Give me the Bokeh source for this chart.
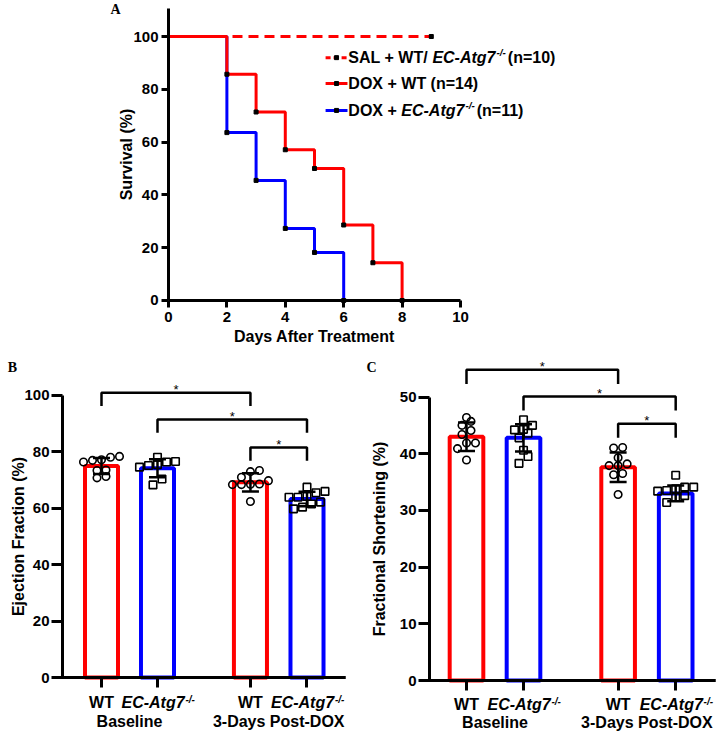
from bokeh.plotting import figure
from bokeh.layouts import column, row
from bokeh.models import Label, FixedTicker, Range1d, LinearAxis
from bokeh.embed import file_html
from bokeh.resources import INLINE

SANS = "Liberation Sans"
SERIF = "Liberation Serif"
RED = "#ff0000"
BLUE = "#0000ff"
NB = "\u00a0"

# ---------------- Panel A data (Kaplan-Meier survival) ----------------
sal_days = [0, 9]
sal_surv = [100, 100]
wt_days = [0, 2, 3, 4, 5, 6, 7, 8]
wt_surv = [100, 85.7, 71.4, 57.1, 50.0, 28.6, 14.3, 0]
ko_days = [0, 2, 3, 4, 5, 6]
ko_surv = [100, 63.6, 45.5, 27.3, 18.2, 0]
surv_x_ticks = [0, 2, 4, 6, 8, 10]
surv_y_ticks = [0, 20, 40, 60, 80, 100]

# ---------------- Panels B / C data ----------------
bar_groups = ["WT", "EC-Atg7", "WT", "EC-Atg7"]
bar_pos = [1.0, 2.0, 3.66, 4.67]
period_labels = ["Baseline", "3-Days Post-DOX"]

ef_wt_base = [77.2, 78.4, 77.0, 78.1, 73.4, 76.4, 73.6, 70.8, 71.3]
ef_ko_base = [78.1, 76.6, 75.2, 76.4, 75.5, 74.6, 70.4, 68.3]
ef_wt_dox = [73.4, 73.0, 71.0, 69.8, 68.4, 68.4, 68.6, 68.5, 62.4]
ef_ko_dox = [67.5, 63.9, 65.5, 66.0, 63.9, 64.2, 62.2, 59.8, 60.4, 61.5]
ef_mean = [75.0, 74.2, 69.2, 63.3]
ef_sd = [2.8, 3.2, 3.2, 2.6]
ef_ticks = [0, 20, 40, 60, 80, 100]
ef_brackets = [(0, 2, 101.0), (1, 3, 91.5), (2, 3, 81.6)]

fs_wt_base = [45.7, 46.4, 45.0, 44.1, 43.4, 41.9, 41.9, 40.9, 38.9]
fs_ko_base = [44.3, 43.6, 46.0, 45.0, 44.2, 42.8, 40.6, 39.5, 38.3]
fs_wt_dox = [41.1, 41.0, 39.3, 38.2, 37.9, 37.9, 36.5, 36.3, 32.8]
fs_ko_dox = [36.2, 33.5, 33.4, 34.1, 34.1, 33.8, 32.3, 32.6, 31.4]
fs_mean = [43.0, 42.8, 37.6, 33.0]
fs_sd = [2.5, 2.4, 2.6, 1.4]
fs_ticks = [0, 10, 20, 30, 40, 50]
fs_brackets = [(0, 2, 54.8), (1, 3, 50.1), (2, 3, 45.3)]

# Arial/Liberation Sans Bold advance widths (per 1000 em)
CW = {' ': 278, NB: 278, '+': 584, '/': 278, '-': 333, '(': 333, ')': 333, '=': 584,
      'A': 722, 'B': 722, 'C': 722, 'D': 722, 'E': 667, 'L': 611, 'O': 778,
      'P': 667, 'S': 667, 'T': 611, 'W': 944, 'X': 667, 'a': 556, 'e': 556,
      'g': 611, 'i': 278, 'l': 278, 'n': 611, 's': 556, 't': 333, 'y': 556,
      '%': 889}


def tw(s, size):
    return sum(CW.get(c, 556) for c in s) * size / 1000.0


def add_label(p, x, y, text, size, style="bold", align="left", baseline="middle",
              xo=0, yo=0, font=SANS):
    p.add_layout(Label(x=x, y=y, text=text, text_font=font,
                       text_font_size=f"{size}px", text_font_style=style,
                       text_align=align, text_baseline=baseline,
                       x_offset=xo, y_offset=yo, text_color="black"))


def rich_label(p, x, y, pieces, size, align="left", sup_gap=3.0):
    # pieces: (text, style, superscript?)
    sup_size = size * 0.62
    widths = [tw(t, sup_size if sup else size) + (sup_gap if sup else 0)
              for t, st, sup in pieces]
    total = sum(widths)
    off = 0 if align == "left" else -total / 2.0
    for (t, st, sup), w in zip(pieces, widths):
        add_label(p, x, y, t, round(sup_size if sup else size, 1), style=st,
                  xo=off + (1 if sup else 0), yo=(size * 0.32 if sup else 0))
        off += w


def style_axis(ax, tick_out, tick_size="15px"):
    ax.axis_line_width = 3
    ax.axis_line_color = "black"
    ax.major_tick_line_width = 3
    ax.major_tick_line_color = "black"
    ax.major_tick_in = 0
    ax.major_tick_out = tick_out
    ax.minor_tick_line_color = None
    ax.major_label_text_font = SANS
    ax.major_label_text_font_style = "bold"
    ax.major_label_text_font_size = tick_size
    ax.major_label_text_color = "black"
    ax.axis_label_text_font = SANS
    ax.axis_label_text_font_style = "bold"
    ax.axis_label_text_font_size = "16px"
    ax.axis_label_text_color = "black"


def clean(p):
    p.xgrid.visible = False
    p.ygrid.visible = False
    p.outline_line_color = None


# ======================= Panel A =======================
pa = figure(width=716, height=360, output_backend="svg", toolbar_location=None,
            x_range=Range1d(-5.753, 18.767), y_range=Range1d(-22.73, 113.64),
            min_border=0, x_axis_label="Days After Treatment",
            y_axis_label="Survival (%)")
clean(pa)
for ax in pa.axis:
    style_axis(ax, 7)
pa.xaxis.fixed_location = 0
pa.yaxis.fixed_location = 0
pa.xaxis.bounds = (0, 10)
pa.yaxis.bounds = (0, 110.6)
pa.xaxis.ticker = FixedTicker(ticks=surv_x_ticks)
pa.yaxis.ticker = FixedTicker(ticks=surv_y_ticks)
pa.xaxis.major_label_standoff = 5
pa.yaxis.major_label_standoff = 3
pa.xaxis.axis_label_standoff = 2
pa.yaxis.axis_label_standoff = -5

pa.line(sal_days, sal_surv, line_color=RED, line_width=3, line_dash="10 6")
pa.step(ko_days, ko_surv, mode="after", line_color=BLUE, line_width=3)
pa.step(wt_days, wt_surv, mode="after", line_color=RED, line_width=3)
pa.scatter(ko_days[1:], ko_surv[1:], marker="square", size=4, color="black")
pa.scatter(wt_days[1:], wt_surv[1:], marker="square", size=4, color="black")
pa.scatter(sal_days[-1:], sal_surv[-1:], marker="square", size=4, color="black")

# legend (drawn by hand for italic/superscript text)
leg_rows = [92.0, 82.2, 72.0]
leg_x0, leg_x1, leg_tx = 5.38, 6.13, 6.16
leg_colors = [RED, RED, BLUE]
leg_dash = ["5 3", "solid", "solid"]
for yy, col, dsh in zip(leg_rows, leg_colors, leg_dash):
    pa.line([leg_x0, leg_x1], [yy, yy], line_color=col, line_width=3, line_dash=dsh)
    pa.scatter([(leg_x0 + leg_x1) / 2], [yy], marker="square", size=4, color="black")
LFS = 16
rich_label(pa, leg_tx, leg_rows[0], [("SAL + WT/ ", "bold", False), ("EC-Atg7", "bold italic", False),
                                     ("-/-", "bold italic", True), (" (n=10)", "bold", False)], LFS)
rich_label(pa, leg_tx, leg_rows[1], [("DOX + WT (n=14)", "bold", False)], LFS)
rich_label(pa, leg_tx, leg_rows[2], [("DOX + ", "bold", False), ("EC-Atg7", "bold italic", False),
                                     ("-/-", "bold italic", True), (" (n=11)", "bold", False)], LFS)
add_label(pa, -1.815, 110.4, "A", 14, font=SERIF, align="center")


# ======================= Panels B, C =======================
def swarm(vals, ppx_y, d=7.0, step=9.0):
    """Row-based scatter spreading (GraphPad-like): points closer than d px in y
    share a row and are spread symmetrically about the bar centre."""
    offs = [0.0] * len(vals)
    order = sorted(range(len(vals)), key=lambda i: vals[i])
    rows, cur, start = [], [], None
    for i in order:
        y = vals[i] * ppx_y
        if cur and y - start >= d:
            rows.append(cur)
            cur = []
        if not cur:
            start = y
        cur.append(i)
    if cur:
        rows.append(cur)
    for r in rows:
        n = len(r)
        for j, i in enumerate(r):
            offs[i] = (j - (n - 1) / 2.0) * step
    return offs


def bar_panel(width, xr, yr, y_axis_x, x_bounds, y_top, yticks, means, sds, pts,
              brackets, leg, ylabel, letter_xy, letter, title_standoff,
              tick_standoff, period_px):
    height = 372
    p = figure(width=width, height=height, output_backend="svg", toolbar_location=None,
               x_range=Range1d(*xr), y_range=Range1d(*yr), min_border=0,
               y_axis_label=ylabel)
    clean(p)
    ppx_x = width / (xr[1] - xr[0])
    ppx_y = height / (yr[1] - yr[0])
    wt_ticks = [x for x, g in zip(bar_pos, bar_groups) if g == "WT"]
    ko_ticks = [x for x, g in zip(bar_pos, bar_groups) if g != "WT"]

    style_axis(p.yaxis[0], 11)
    p.yaxis.fixed_location = y_axis_x
    p.yaxis.ticker = FixedTicker(ticks=yticks)
    p.yaxis.bounds = (0, y_top)
    p.yaxis.major_label_standoff = 2
    p.yaxis.axis_label_standoff = title_standoff

    xa = p.xaxis[0]
    style_axis(xa, 10, "16px")
    xa.fixed_location = 0
    xa.bounds = x_bounds
    xa.ticker = FixedTicker(ticks=wt_ticks)
    xa.major_label_overrides = {t: "WT" for t in wt_ticks}
    xa.major_label_standoff = tick_standoff

    ko_text = "EC-Atg7" + NB + NB
    xb = LinearAxis(ticker=FixedTicker(ticks=ko_ticks), fixed_location=0,
                    bounds=x_bounds)
    style_axis(xb, 10, "16px")
    xb.major_label_text_font_style = "bold italic"
    xb.major_label_overrides = {t: ko_text for t in ko_ticks}
    xb.major_label_standoff = tick_standoff
    p.add_layout(xb, "below")

    colors = [RED, BLUE, RED, BLUE]
    p.vbar(x=bar_pos, top=means, width=0.59, bottom=0, fill_color="white",
           line_color=colors, line_width=4)
    for k, vals in enumerate(pts):
        offs = swarm(vals, ppx_y)
        xs = [bar_pos[k] + o / ppx_x for o in offs]
        mk = "circle" if k % 2 == 0 else "square"
        p.scatter(xs, vals, marker=mk, size=7.5, fill_color=None,
                  line_color="black", line_width=1.6)
    cap = 8.5 / ppx_x
    lo = [m - s for m, s in zip(means, sds)]
    hi = [m + s for m, s in zip(means, sds)]
    p.segment(bar_pos, lo, bar_pos, hi, line_color="black", line_width=2.5)
    p.segment([x - cap for x in bar_pos], hi, [x + cap for x in bar_pos], hi,
              line_color="black", line_width=2.5)
    p.segment([x - cap for x in bar_pos], lo, [x + cap for x in bar_pos], lo,
              line_color="black", line_width=2.5)

    bx, by = [], []
    for a, b, h in brackets:
        bx.append([bar_pos[a], bar_pos[a], bar_pos[b], bar_pos[b]])
        by.append([h - leg, h, h, h - leg])
        add_label(p, (bar_pos[a] + bar_pos[b]) / 2, h, "*", 13, style="normal",
                  align="center", baseline="middle", yo=3)
    p.multi_line(bx, by, line_color="black", line_width=2.5)

    # superscripts after the italic tick labels, period labels
    full = tw(ko_text, 16)
    sup_x = full / 2.0 - tw(NB + NB, 16) + 0.8
    sup_y = -(10 + tick_standoff + 6) / ppx_y
    for t in ko_ticks:
        add_label(p, t, sup_y, "-/-", 10, style="bold italic", xo=sup_x)
    yper = -period_px / ppx_y
    add_label(p, (bar_pos[0] + bar_pos[1]) / 2, yper, period_labels[0], 16, align="center")
    add_label(p, (bar_pos[2] + bar_pos[3]) / 2, yper, period_labels[1], 16, align="center")
    add_label(p, letter_xy[0], letter_xy[1], letter, 14, font=SERIF, align="center")
    return p


pb = bar_panel(363, (-0.8036, 5.679), (-19.50, 112.41), 0.3036, (0.143, 5.357), 100,
               ef_ticks, ef_mean, ef_sd, [ef_wt_base, ef_ko_base, ef_wt_dox, ef_ko_dox],
               ef_brackets, 4.7, "Ejection Fraction (%)", (-0.589, 109.9), "B", -6,
               6, 44)
pc = bar_panel(353, (-0.807, 5.386), (-9.17, 56.44), 0.351, (0.193, 5.368), 50,
               fs_ticks, fs_mean, fs_sd, [fs_wt_base, fs_ko_base, fs_wt_dox, fs_ko_dox],
               fs_brackets, 2.5, "Fractional Shortening (%)", (-0.667, 55.2), "C", 9,
               5, 42)

layout = column(pa, row(pb, pc))
open("out.html", "w").write(file_html(layout, INLINE))
